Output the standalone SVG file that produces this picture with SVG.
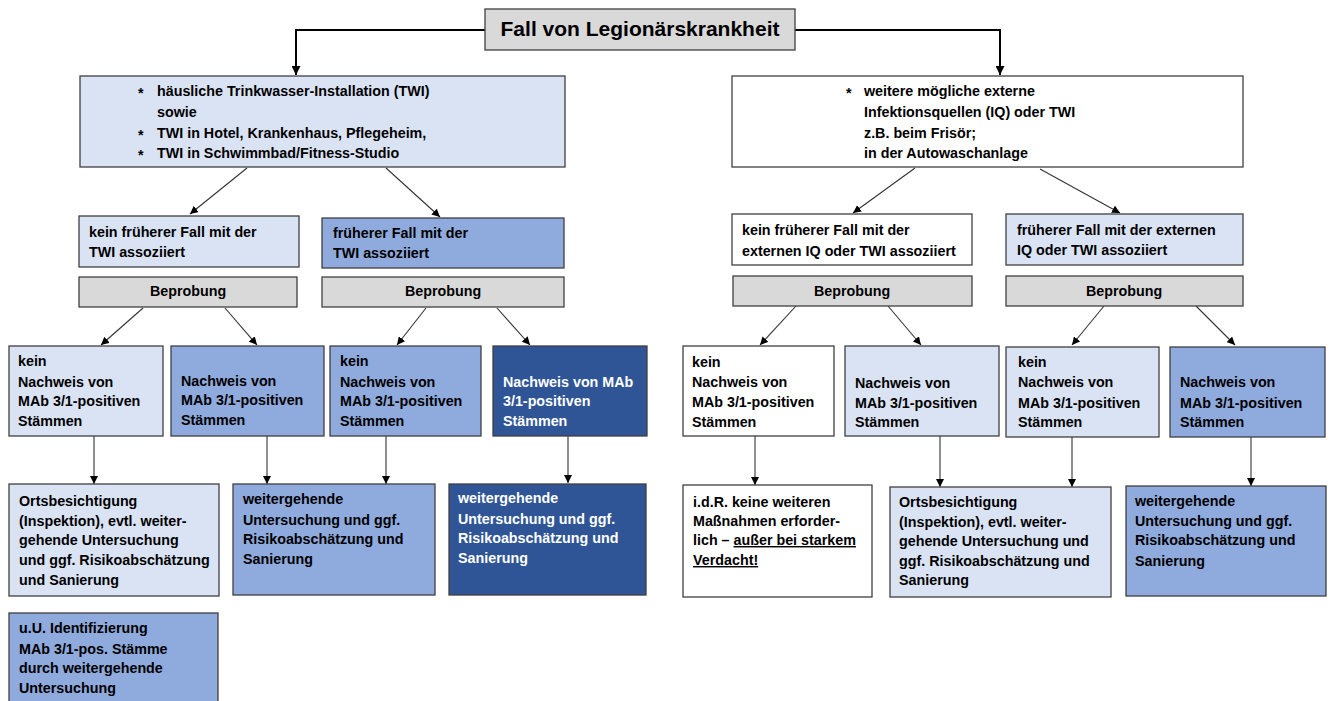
<svg xmlns="http://www.w3.org/2000/svg" width="1332" height="701" viewBox="0 0 1332 701">
<defs>
<marker id="ah" viewBox="0 0 8 8" refX="8" refY="4" markerWidth="8" markerHeight="8" markerUnits="userSpaceOnUse" orient="auto"><path d="M0,0 L8,4 L0,8 z" fill="#000"/></marker>
<marker id="ahb" viewBox="0 0 9 9" refX="9" refY="4.5" markerWidth="9" markerHeight="9" markerUnits="userSpaceOnUse" orient="auto"><path d="M0,0 L9,4.5 L0,9 z" fill="#000"/></marker>
</defs>
<style>
rect{stroke:#404040;stroke-width:1.3}
rect.bg{stroke:none;fill:#ffffff}
.g{fill:#d9d9d9}.l{fill:#dae3f3}.m{fill:#8faadc}.d{fill:#2f5597}.w{fill:#ffffff}
text{font-family:"Liberation Sans",Arial,sans-serif;font-weight:bold;font-size:14.3px;fill:#000}
text.wt{fill:#ffffff}
.c{text-anchor:middle}
.t{font-size:21px}
.cn{fill:none;stroke:#333;stroke-width:1.1;marker-end:url(#ah)}
.cb{fill:none;stroke:#000;stroke-width:2;marker-end:url(#ahb)}
</style>
<rect class="bg" width="1332" height="701"/>
<g id="connectors">
<path class="cb" d="M485,30 H296 V75"/>
<path class="cb" d="M795,30 H1000 V75"/>
<path class="cn" d="M247,168 L190,214"/>
<path class="cn" d="M386,168 L440,217"/>
<path class="cn" d="M915,168 L853,213"/>
<path class="cn" d="M1040,169 L1120,213"/>
<path class="cn" d="M143,308 L101,345"/>
<path class="cn" d="M225,308 L257,345"/>
<path class="cn" d="M426,308 L397,345"/>
<path class="cn" d="M497,308 L530,345"/>
<path class="cn" d="M796,306 L760,345"/>
<path class="cn" d="M888,306 L921,345"/>
<path class="cn" d="M1104,306 L1072,345"/>
<path class="cn" d="M1196,306 L1235,345"/>
<path class="cn" d="M94,436 V484"/>
<path class="cn" d="M267,436 V484"/>
<path class="cn" d="M386,436 V484"/>
<path class="cn" d="M568,436 V483"/>
<path class="cn" d="M755,436 V485"/>
<path class="cn" d="M940,436 V487"/>
<path class="cn" d="M1072,437 V487"/>
<path class="cn" d="M1251,437 V486"/>
</g>
<g id="title"><rect class="g" x="485" y="9" width="310" height="41"/><text class="t c" x="640" y="36">Fall von Legionärskrankheit</text></g>
<g id="twi"><rect class="l" x="80" y="76" width="485" height="91"/>
<text x="138" y="98">*</text><text x="157" y="96">häusliche Trinkwasser-Installation (TWI)</text>
<text x="157" y="117">sowie</text>
<text x="138" y="140">*</text><text x="157" y="138">TWI in Hotel, Krankenhaus, Pflegeheim,</text>
<text x="138" y="160">*</text><text x="157" y="158">TWI in Schwimmbad/Fitness-Studio</text></g>
<g id="extern"><rect class="w" x="732" y="76" width="511" height="91"/>
<text x="846" y="98">*</text><text x="864" y="96">weitere mögliche externe</text>
<text x="864" y="117">Infektionsquellen (IQ) oder TWI</text>
<text x="864" y="138">z.B. beim Frisör;</text>
<text x="864" y="158">in der Autowaschanlage</text></g>
<g id="n2a"><rect class="l" x="79" y="216" width="220" height="51"/><text x="89" y="237">kein früherer Fall mit der</text><text x="89" y="257">TWI assoziiert</text></g>
<g id="n2b"><rect class="m" x="322" y="218" width="242" height="50"/><text x="333" y="238">früherer Fall mit der</text><text x="333" y="258">TWI assoziiert</text></g>
<g id="n2c"><rect class="w" x="732" y="214" width="240" height="51"/><text x="742" y="235">kein früherer Fall mit der</text><text x="742" y="256">externen IQ oder TWI assoziiert</text></g>
<g id="n2d"><rect class="l" x="1006" y="214" width="237" height="51"/><text x="1017" y="235">früherer Fall mit der externen</text><text x="1017" y="255">IQ oder TWI assoziiert</text></g>
<g id="b1"><rect class="g" x="79" y="277" width="218" height="30"/><text class="c" x="188" y="296">Beprobung</text></g>
<g id="b2"><rect class="g" x="322" y="277" width="242" height="30"/><text class="c" x="443" y="296">Beprobung</text></g>
<g id="b3"><rect class="g" x="733" y="276" width="239" height="30"/><text class="c" x="852" y="296">Beprobung</text></g>
<g id="b4"><rect class="g" x="1006" y="276" width="237" height="30"/><text class="c" x="1124" y="296">Beprobung</text></g>
<g id="r3a"><rect class="l" x="9" y="346" width="154" height="90"/><text x="18" y="366">kein</text><text x="18" y="387">Nachweis von</text><text x="18" y="406">MAb 3/1-positiven</text><text x="18" y="426">Stämmen</text></g>
<g id="r3b"><rect class="m" x="171" y="346" width="153" height="90"/><text x="181" y="386">Nachweis von</text><text x="181" y="405">MAb 3/1-positiven</text><text x="181" y="425">Stämmen</text></g>
<g id="r3c"><rect class="m" x="330" y="346" width="151" height="90"/><text x="340" y="366">kein</text><text x="340" y="387">Nachweis von</text><text x="340" y="406">MAb 3/1-positiven</text><text x="340" y="426">Stämmen</text></g>
<g id="r3d"><rect class="d" x="493" y="346" width="154" height="90"/><text class="wt" x="503" y="387">Nachweis von MAb</text><text class="wt" x="503" y="406">3/1-positiven</text><text class="wt" x="503" y="426">Stämmen</text></g>
<g id="r3e"><rect class="w" x="683" y="346" width="151" height="90"/><text x="692" y="367">kein</text><text x="692" y="387">Nachweis von</text><text x="692" y="407">MAb 3/1-positiven</text><text x="692" y="427">Stämmen</text></g>
<g id="r3f"><rect class="l" x="845" y="346" width="154" height="90"/><text x="855" y="388">Nachweis von</text><text x="855" y="408">MAb 3/1-positiven</text><text x="855" y="427">Stämmen</text></g>
<g id="r3g"><rect class="l" x="1006" y="347" width="153" height="90"/><text x="1018" y="367">kein</text><text x="1018" y="387">Nachweis von</text><text x="1018" y="408">MAb 3/1-positiven</text><text x="1018" y="427">Stämmen</text></g>
<g id="r3h"><rect class="m" x="1170" y="347" width="155" height="90"/><text x="1180" y="387">Nachweis von</text><text x="1180" y="408">MAb 3/1-positiven</text><text x="1180" y="427">Stämmen</text></g>
<g id="r4a"><rect class="l" x="9" y="484" width="210" height="112"/><text x="19" y="506">Ortsbesichtigung</text><text x="19" y="526">(Inspektion), evtl. weiter-</text><text x="19" y="545">gehende Untersuchung</text><text x="19" y="565">und ggf. Risikoabschätzung</text><text x="19" y="585">und Sanierung</text></g>
<g id="r4b"><rect class="m" x="233" y="484" width="202" height="111"/><text x="243" y="504">weitergehende</text><text x="243" y="525">Untersuchung und ggf.</text><text x="243" y="544">Risikoabschätzung und</text><text x="243" y="564">Sanierung</text></g>
<g id="r4c"><rect class="d" x="449" y="484" width="197" height="111"/><text class="wt" x="458" y="503">weitergehende</text><text class="wt" x="458" y="524">Untersuchung und ggf.</text><text class="wt" x="458" y="543">Risikoabschätzung und</text><text class="wt" x="458" y="563">Sanierung</text></g>
<g id="r5a"><rect class="m" x="9" y="613" width="209" height="95"/><text x="19" y="633">u.U. Identifizierung</text><text x="19" y="654">MAb 3/1-pos. Stämme</text><text x="19" y="673">durch weitergehende</text><text x="19" y="693">Untersuchung</text></g>
<g id="r4d"><rect class="w" x="683" y="485" width="189" height="112"/><text x="693" y="507">i.d.R. keine weiteren</text><text x="693" y="526">Maßnahmen erforder-</text><text x="693" y="545">lich – <tspan text-decoration="underline">außer bei starkem</tspan></text><text x="693" y="565" text-decoration="underline">Verdacht!</text></g>
<g id="r4e"><rect class="l" x="890" y="487" width="221" height="110"/><text x="899" y="507">Ortsbesichtigung</text><text x="899" y="527">(Inspektion), evtl. weiter-</text><text x="899" y="546">gehende Untersuchung und</text><text x="899" y="566">ggf. Risikoabschätzung und</text><text x="899" y="585">Sanierung</text></g>
<g id="r4f"><rect class="m" x="1126" y="486" width="200" height="110"/><text x="1135" y="506">weitergehende</text><text x="1135" y="526">Untersuchung und ggf.</text><text x="1135" y="545">Risikoabschätzung und</text><text x="1135" y="566">Sanierung</text></g>
</svg>
